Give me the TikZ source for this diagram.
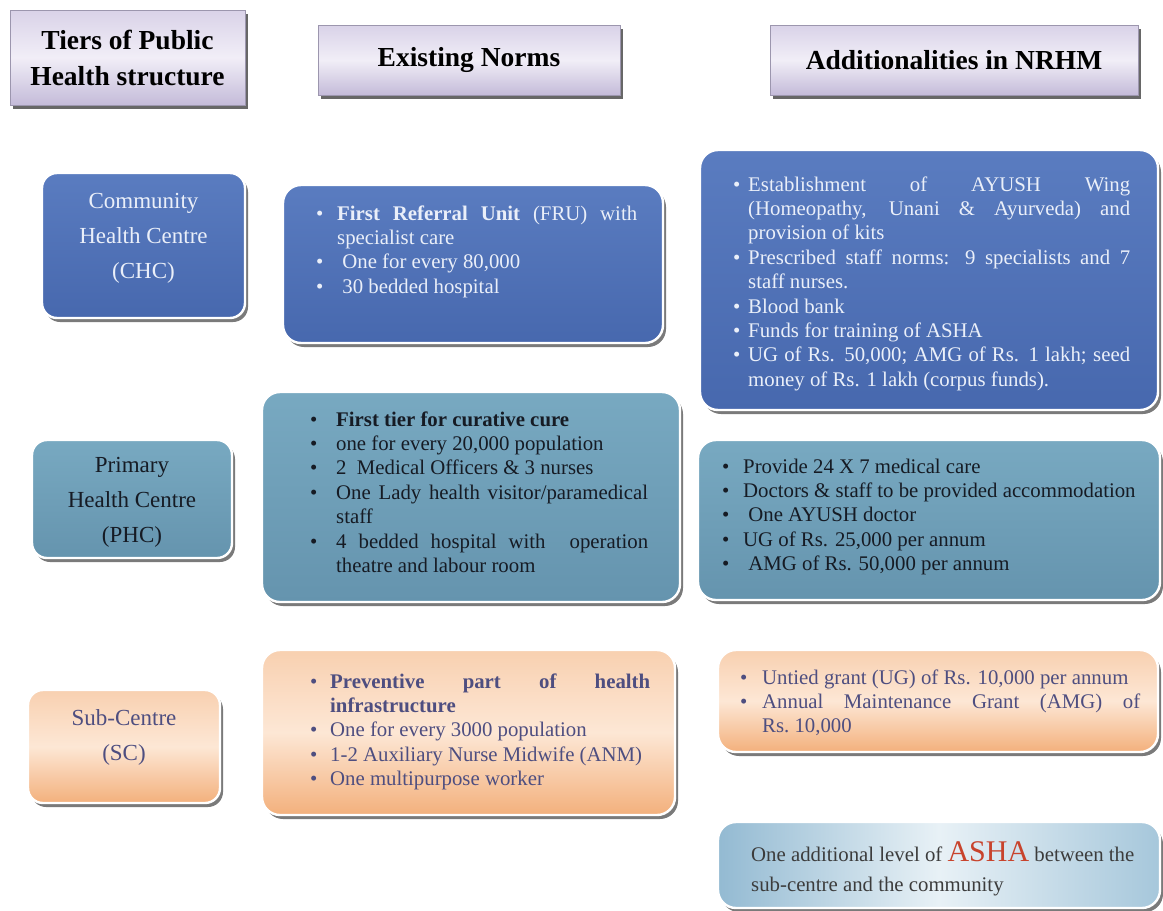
\documentclass[tikz,border=0pt]{standalone}
\usepackage{fontspec}
\setmainfont{Liberation Serif}
\usetikzlibrary{shadows}
\definecolor{hdrA}{HTML}{D9D2E8}
\definecolor{hdrM}{HTML}{F1EEF7}
\definecolor{hdrB}{HTML}{C4BBD9}
\definecolor{hdrLine}{HTML}{9C96AE}
\definecolor{chcA}{HTML}{5A7CC0}
\definecolor{chcB}{HTML}{4768AE}
\definecolor{chcTxt}{HTML}{EAEFF9}
\definecolor{phcA}{HTML}{78A9C1}
\definecolor{phcB}{HTML}{6594AE}
\definecolor{phcTxt}{HTML}{161B24}
\definecolor{scA}{HTML}{F8D0B0}
\definecolor{scM}{HTML}{FDE7D5}
\definecolor{scB}{HTML}{F3B07C}
\definecolor{scTxt}{HTML}{4E4E80}
\definecolor{ashaL}{HTML}{93BAD2}
\definecolor{ashaM}{HTML}{E8F1F6}
\definecolor{ashaR}{HTML}{A6C7DB}
\definecolor{ashaTxt}{HTML}{3C3C3C}
\definecolor{ashaRed}{HTML}{C8432C}
\newlength\bhang
\newcommand{\bodyfont}{\fontsize{20.8}{24.4}\selectfont\hyphenpenalty=10000\exhyphenpenalty=10000\tolerance=9999\relax}
\newcommand{\bitem}[1]{\par\noindent\hangindent=\bhang\hangafter=1\makebox[\bhang][l]{\textbullet}#1}
\tikzset{
  hdr/.style={rectangle, draw=hdrLine, line width=0.6pt, top color=hdrA, bottom color=hdrB, middle color=hdrM,
    drop shadow={shadow xshift=3pt, shadow yshift=-4pt, fill=black!70, opacity=0.85},
    inner sep=0pt, align=center, font=\fontsize{27.5}{36}\selectfont\bfseries, text=black},
  card/.style={rounded corners=18pt, draw=white, line width=2.4pt, inner sep=0pt,
    drop shadow={shadow xshift=3pt, shadow yshift=-4pt, fill=black!65, opacity=0.8}},
  lab/.style={card, rounded corners=15pt},
  chc/.style={top color=chcA, bottom color=chcB},
  phc/.style={top color=phcA, bottom color=phcB},
  sc/.style={top color=scA, bottom color=scB, middle color=scM},
  asha/.style={card, left color=ashaL, right color=ashaR, middle color=ashaM},
  labtxt/.style={inner sep=0pt, align=center, font=\fontsize{23}{35}\selectfont},
  bodytxt/.style={inner sep=0pt, anchor=base west}
}
\begin{document}
\begin{tikzpicture}[x=1pt,y=-1pt]
\useasboundingbox (0,0) rectangle (1163,911);
% headers
\node[hdr, minimum width=235pt, minimum height=95pt] (h1) at (127.5,57.5) {Tiers of Public\\Health structure};
\node[hdr, minimum width=302pt, minimum height=70pt] (h2) at (469,60) {Existing Norms};
\node[hdr, minimum width=368pt, minimum height=70pt] (h3) at (954,60) {Additionalities in NRHM};
% CHC row
\node[lab, chc, minimum width=203pt, minimum height=145pt] (chcL) at (143.5,245.5) {};
\node[labtxt, text=chcTxt] (chcLt) at (143.5,238) {Community\\Health Centre\\(CHC)};
\node[card, chc, minimum width=380pt, minimum height=158pt] (chcN) at (473,264) {};
\node[bodytxt, text=chcTxt] (chcNt) at (316,220) {\parbox[t]{321pt}{\bodyfont\setlength\bhang{21pt}%
  \bitem{\textbf{First Referral Unit} (FRU) with specialist care}%
  \bitem{\hspace{0.25em}One for every 80,000}%
  \bitem{\hspace{0.25em}30 bedded hospital}}};
\node[card, chc, minimum width=458pt, minimum height=260pt] (chcA) at (929,280) {};
\node[bodytxt, text=chcTxt] (chcAt) at (733,191) {\parbox[t]{397pt}{\bodyfont\setlength\bhang{15pt}%
  \bitem{Establishment of AYUSH Wing\linebreak (Homeopathy, Unani \& Ayurveda) and\linebreak provision of kits}%
  \bitem{Prescribed staff norms: 9 specialists and 7\linebreak staff nurses.}%
  \bitem{Blood bank}%
  \bitem{Funds for training of ASHA}%
  \bitem{UG of Rs. 50,000; AMG of Rs. 1 lakh; seed\linebreak money of Rs. 1 lakh (corpus funds).}}};
% PHC row
\node[lab, phc, minimum width=200pt, minimum height=118pt] (phcL) at (132,499) {};
\node[labtxt, text=phcTxt] (phcLt) at (132,502.5) {Primary\\Health Centre\\(PHC)};
\node[card, phc, minimum width=418pt, minimum height=210pt] (phcN) at (471,497) {};
\node[bodytxt, text=phcTxt] (phcNt) at (310,426) {\parbox[t]{338pt}{\bodyfont\setlength\bhang{26pt}%
  \bitem{\textbf{First tier for curative cure}}%
  \bitem{one for every 20,000 population}%
  \bitem{2\ \ Medical Officers \& 3 nurses}%
  \bitem{One Lady health visitor/paramedical\linebreak staff}%
  \bitem{4 bedded hospital with\ \ operation\linebreak theatre and labour room}}};
\node[card, phc, minimum width=462pt, minimum height=160pt] (phcA) at (929,520) {};
\node[bodytxt, text=phcTxt] (phcAt) at (722,473) {\parbox[t]{418pt}{\bodyfont\setlength\bhang{21pt}%
  \bitem{Provide 24 X 7 medical care}%
  \bitem{Doctors \& staff to be provided accommodation}%
  \bitem{\hspace{0.25em}One AYUSH doctor}%
  \bitem{UG of Rs. 25,000 per annum}%
  \bitem{\hspace{0.25em}AMG of Rs. 50,000 per annum}}};
% SC row
\node[lab, sc, minimum width=192pt, minimum height=113pt] (scL) at (124,746.5) {};
\node[labtxt, text=scTxt] (scLt) at (124,737.5) {Sub-Centre\\(SC)};
\node[card, sc, minimum width=413pt, minimum height=165pt] (scN) at (468.5,732.5) {};
\node[bodytxt, text=scTxt] (scNt) at (310,688) {\parbox[t]{340pt}{\bodyfont\setlength\bhang{20pt}%
  \bitem{\textbf{Preventive part of health\linebreak infrastructure}}%
  \bitem{One for every 3000 population}%
  \bitem{1-2 Auxiliary Nurse Midwife (ANM)}%
  \bitem{One multipurpose worker}}};
\node[card, sc, minimum width=440pt, minimum height=102pt] (scA) at (938,701) {};
\node[bodytxt, text=scTxt] (scAt) at (740,684) {\parbox[t]{400pt}{\bodyfont\setlength\bhang{22pt}%
  \bitem{Untied grant (UG) of Rs. 10,000 per annum}%
  \bitem{Annual Maintenance Grant (AMG) of\linebreak Rs.~10,000}}};
% ASHA
\node[asha, minimum width=442pt, minimum height=86pt] (ashaB) at (939,865) {};
\node[bodytxt, text=ashaTxt] (ashaT) at (751,861) {\parbox[t]{400pt}{\raggedright\fontsize{20.8}{30}\selectfont
  One additional level of {\fontsize{30}{30}\selectfont\textcolor{ashaRed}{ASHA}} between the\\
  sub-centre and the community}};
\end{tikzpicture}
\end{document}
